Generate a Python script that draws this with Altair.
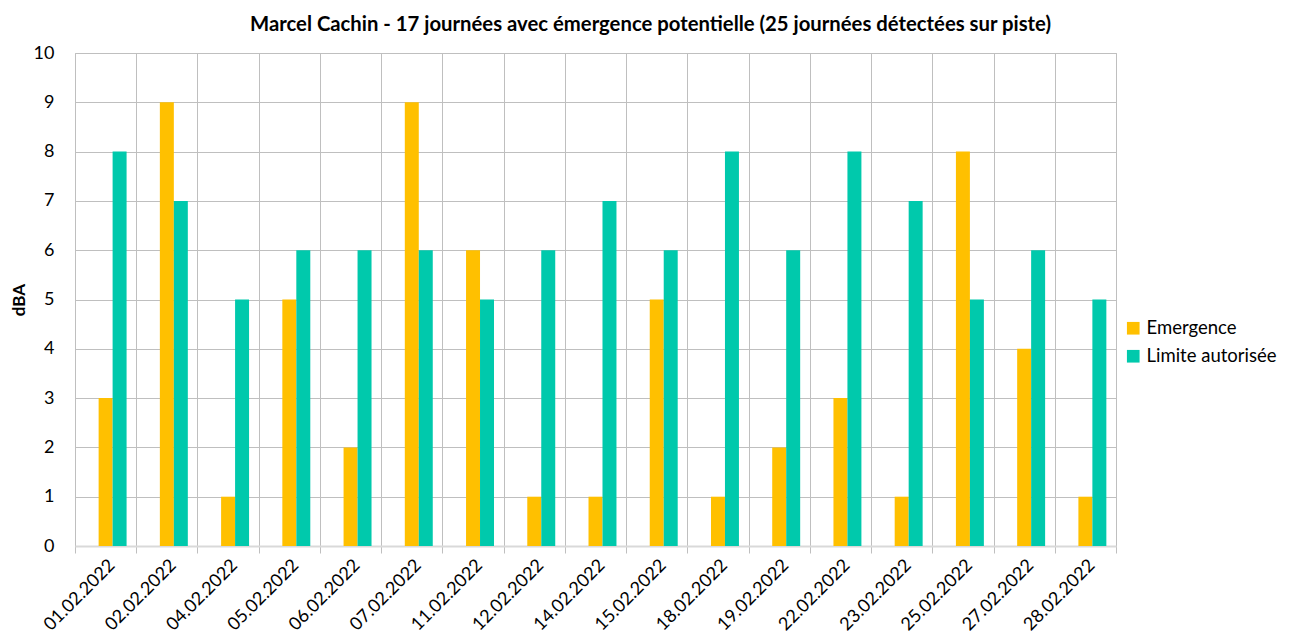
import altair as alt
import pandas as pd

dates = ["01.02.2022", "02.02.2022", "04.02.2022", "05.02.2022", "06.02.2022",
         "07.02.2022", "11.02.2022", "12.02.2022", "14.02.2022", "15.02.2022",
         "18.02.2022", "19.02.2022", "22.02.2022", "23.02.2022", "25.02.2022",
         "27.02.2022", "28.02.2022"]
emergence = [3, 9, 1, 5, 2, 9, 6, 1, 1, 5, 1, 2, 3, 1, 8, 4, 1]
limite = [8, 7, 5, 6, 6, 6, 5, 6, 7, 6, 8, 6, 8, 7, 5, 6, 5]
series = ["Emergence", "Limite autorisée"]
colors = ["#FFC000", "#00C9AC"]
yticks = [0, 1, 2, 3, 4, 5, 6, 7, 8, 9, 10]

rows = []
for d, e, l in zip(dates, emergence, limite):
    rows.append({"date": d, "serie": series[0], "val": e})
    rows.append({"date": d, "serie": series[1], "val": l})
df = pd.DataFrame(rows)

FONT = "Lato"

chart = alt.Chart(df).mark_bar().encode(
    x=alt.X("date:N", sort=dates, title=None,
            scale=alt.Scale(paddingInner=0, paddingOuter=0),
            axis=alt.Axis(labelAngle=-45, tickBand="extent", grid=True,
                          gridColor="#BFBFBF", gridWidth=1,
                          domainColor="#D9D9D9", domainWidth=2,
                          tickColor="#BFBFBF", tickSize=7,
                          labelFontSize=18, labelColor="#000000",
                          labelFont=FONT, labelPadding=3)),
    xOffset=alt.XOffset("serie:N",
                        scale=alt.Scale(domain=["", series[0], series[1]],
                                        paddingInner=0, paddingOuter=0.69)),
    y=alt.Y("val:Q", title="dBA",
            scale=alt.Scale(domain=[0, 10], nice=False),
            axis=alt.Axis(values=yticks, labelOverlap=False,
                          grid=True, gridColor="#BFBFBF", ticks=False,
                          domain=False, labelFontSize=18, labelColor="#000000",
                          labelFont=FONT, labelPadding=21,
                          titleFont=FONT, titleFontSize=17, titleFontWeight="bold",
                          titleColor="#000000", titlePadding=5)),
    color=alt.Color("serie:N", scale=alt.Scale(domain=series, range=colors),
                    legend=alt.Legend(title=None, orient="none",
                                      legendX=1049, legendY=266,
                                      symbolType="square", symbolSize=160,
                                      symbolStrokeWidth=0,
                                      labelFontSize=18.5, labelFont=FONT,
                                      labelColor="#000000", rowPadding=9)),
).properties(
    width=1041, height=493,
    title=alt.TitleParams(
        "Marcel Cachin - 17 journées avec émergence potentielle (25 journées détectées sur piste)",
        font=FONT, fontSize=20.3, fontWeight="bold", color="#000000",
        anchor="middle", dx=55, offset=9),
    padding={"left": 67, "top": 45, "right": 167, "bottom": 90},
    autosize=alt.AutoSizeParams(type="none"),
).configure_view(stroke="#BFBFBF", strokeWidth=1)

chart.save("out.html", embed_options={"renderer": "svg", "actions": False})
